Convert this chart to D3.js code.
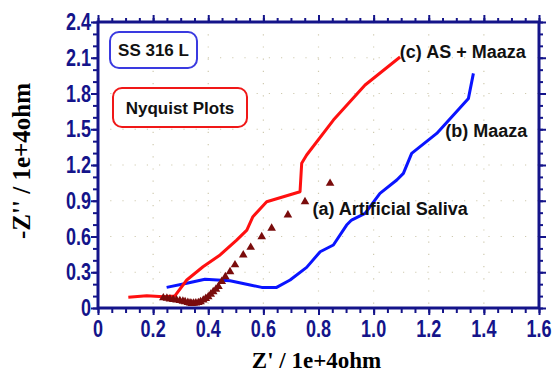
<!DOCTYPE html>
<html>
<head>
<meta charset="utf-8">
<script src="https://cdn.jsdelivr.net/npm/d3@7"></script>
<style>
  body { margin: 0; background: #fff; }
  svg { display: block; }
</style>
</head>
<body>
<div id="chart"></div>
<script>
// (c) AS + Maaza, red line
const asMaaza = [
  [0.110, 0.090], [0.177, 0.103], [0.237, 0.095], [0.279, 0.101],
  [0.322, 0.235], [0.381, 0.346], [0.443, 0.445], [0.503, 0.570],
  [0.540, 0.654], [0.562, 0.766], [0.612, 0.892], [0.733, 0.976],
  [0.739, 1.214], [0.757, 1.284], [0.854, 1.577], [0.969, 1.871],
  [1.096, 2.106]
];
// (b) Maaza, blue line
const maaza = [
  [0.249, 0.173], [0.322, 0.207], [0.388, 0.241], [0.479, 0.229],
  [0.552, 0.193], [0.594, 0.173], [0.648, 0.173], [0.697, 0.235],
  [0.757, 0.341], [0.806, 0.472], [0.854, 0.529], [0.902, 0.696],
  [0.920, 0.738], [0.969, 0.794], [1.023, 0.962], [1.084, 1.074],
  [1.108, 1.130], [1.138, 1.298], [1.229, 1.465], [1.344, 1.759],
  [1.362, 1.969]
];
// (a) Artificial Saliva, triangles
const saliva = [
  [0.237, 0.085], [0.250, 0.082], [0.261, 0.076], [0.273, 0.072],
  [0.285, 0.068], [0.297, 0.062], [0.308, 0.057], [0.316, 0.052],
  [0.326, 0.046], [0.334, 0.042], [0.340, 0.038], [0.347, 0.040],
  [0.355, 0.042], [0.364, 0.045], [0.372, 0.052], [0.382, 0.066],
  [0.391, 0.080], [0.400, 0.095], [0.409, 0.115], [0.418, 0.137],
  [0.428, 0.158], [0.437, 0.180], [0.449, 0.222], [0.462, 0.262],
  [0.479, 0.305], [0.497, 0.362], [0.527, 0.445], [0.554, 0.509],
  [0.594, 0.598], [0.630, 0.669], [0.689, 0.780], [0.751, 0.892],
  [0.842, 1.046]
];

const xTicks = [0, 0.2, 0.4, 0.6, 0.8, 1.0, 1.2, 1.4, 1.6];
const xTickLabels = ['0', '0.2', '0.4', '0.6', '0.8', '1.0', '1.2', '1.4', '1.6'];
const yTicks = [0, 0.3, 0.6, 0.9, 1.2, 1.5, 1.8, 2.1, 2.4];
const yTickLabels = ['0', '0.3', '0.6', '0.9', '1.2', '1.5', '1.8', '2.1', '2.4'];

const W = 555, H = 378;
const margin = {top: 22, right: 16, bottom: 70, left: 98};
const width = W - margin.left - margin.right,
      height = H - margin.top - margin.bottom;

const navy = '#14148a';

const svg = d3.select('#chart').append('svg')
    .attr('width', W).attr('height', H)
    .style('font-family', 'Arial, "Liberation Sans", sans-serif');

const g = svg.append('g')
    .attr('transform', 'translate(' + margin.left + ',' + margin.top + ')');

const x = d3.scaleLinear().domain([0, 1.6]).range([0, width]);
const y = d3.scaleLinear().domain([0, 2.4]).range([height, 0]);

// dotted grid
g.append('g').selectAll('line').data(xTicks.slice(1, -1)).enter().append('line')
    .attr('x1', d => x(d)).attr('x2', d => x(d))
    .attr('y1', 0).attr('y2', height)
    .attr('stroke', '#cfcab0').attr('stroke-width', 1.2)
    .attr('stroke-dasharray', '1.2,11');
g.append('g').selectAll('line').data(yTicks.slice(1, -1)).enter().append('line')
    .attr('y1', d => y(d)).attr('y2', d => y(d))
    .attr('x1', 0).attr('x2', width)
    .attr('stroke', '#cfcab0').attr('stroke-width', 1.2)
    .attr('stroke-dasharray', '1.2,11');

// minor + major ticks on all four sides
const xMinor = d3.range(0, 1.6001, 0.05);
const yMinor = d3.range(0, 2.4001, 0.1);

function styleAxis(sel) {
  sel.select('.domain').remove();
  sel.selectAll('line').attr('stroke', navy).attr('stroke-width', 2);
}

g.append('g').attr('transform', 'translate(0,' + height + ')')
    .call(d3.axisBottom(x).tickValues(xMinor).tickSize(5).tickFormat(''))
    .call(styleAxis);
g.append('g').attr('transform', 'translate(0,' + height + ')')
    .call(d3.axisBottom(x).tickValues(xTicks).tickSize(7).tickFormat(''))
    .call(styleAxis);
g.append('g')
    .call(d3.axisTop(x).tickValues(xMinor).tickSize(4).tickFormat(''))
    .call(styleAxis);
g.append('g')
    .call(d3.axisTop(x).tickValues(xTicks).tickSize(7).tickFormat(''))
    .call(styleAxis);
g.append('g')
    .call(d3.axisLeft(y).tickValues(yMinor).tickSize(5).tickFormat(''))
    .call(styleAxis);
g.append('g')
    .call(d3.axisLeft(y).tickValues(yTicks).tickSize(7).tickFormat(''))
    .call(styleAxis);
g.append('g').attr('transform', 'translate(' + width + ',0)')
    .call(d3.axisRight(y).tickValues(yMinor).tickSize(4).tickFormat(''))
    .call(styleAxis);
g.append('g').attr('transform', 'translate(' + width + ',0)')
    .call(d3.axisRight(y).tickValues(yTicks).tickSize(7).tickFormat(''))
    .call(styleAxis);

// frame
g.append('rect')
    .attr('x', 0).attr('y', 0).attr('width', width).attr('height', height)
    .attr('fill', 'none').attr('stroke', navy).attr('stroke-width', 3);

// tick labels (tall narrow bold)
g.append('g').selectAll('text').data(xTicks).enter().append('text')
    .attr('transform', d => 'translate(' + x(d) + ',' + (height + 29) + ') scale(0.82,1.05)')
    .attr('text-anchor', 'middle')
    .attr('fill', navy).style('font-weight', 'bold').style('font-size', '22px')
    .text((d, i) => xTickLabels[i]);
g.append('g').selectAll('text').data(yTicks).enter().append('text')
    .attr('transform', d => 'translate(-7,' + (y(d) + 8) + ') scale(0.82,1.05)')
    .attr('text-anchor', 'end')
    .attr('fill', navy).style('font-weight', 'bold').style('font-size', '22px')
    .text((d, i) => yTickLabels[i]);

// axis titles
svg.append('text')
    .attr('x', margin.left + width / 2 - 2).attr('y', 368)
    .attr('text-anchor', 'middle')
    .style('font-family', '"Liberation Serif", "Times New Roman", serif')
    .style('font-weight', 'bold').style('font-size', '23px')
    .text("Z' / 1e+4ohm");
svg.append('text')
    .attr('transform', 'translate(30,161) rotate(-90)')
    .attr('text-anchor', 'middle')
    .style('font-family', '"Liberation Serif", "Times New Roman", serif')
    .style('font-weight', 'bold').style('font-size', '25px')
    .text("-Z'' / 1e+4ohm");

// series
const line = d3.line().x(d => x(d[0])).y(d => y(d[1]));

g.append('path').datum(maaza)
    .attr('d', line).attr('fill', 'none')
    .attr('stroke', '#0a14ff').attr('stroke-width', 3)
    .attr('stroke-linejoin', 'round');
g.append('path').datum(asMaaza)
    .attr('d', line).attr('fill', 'none')
    .attr('stroke', '#ff1010').attr('stroke-width', 3)
    .attr('stroke-linejoin', 'round');

const tri = d3.symbol().type(d3.symbolTriangle).size(32);
g.append('g').selectAll('path').data(saliva).enter().append('path')
    .attr('transform', d => 'translate(' + x(d[0]) + ',' + y(d[1]) + ')')
    .attr('d', tri)
    .attr('fill', '#7a0c0c');

// series labels
const labels = [
  {t: '(c) AS + Maaza', x: 1.095, y: 2.10},
  {t: '(b) Maaza', x: 1.26, y: 1.435},
  {t: '(a) Artificial Saliva', x: 0.778, y: 0.78}
];
g.append('g').selectAll('text').data(labels).enter().append('text')
    .attr('x', d => x(d.x)).attr('y', d => y(d.y))
    .attr('fill', '#111')
    .style('font-weight', 'bold').style('font-size', '18px')
    .text(d => d.t);

// boxed annotations
const boxes = [
  {t: 'SS 316 L', x0: 12, y0: 10, w: 87, h: 36, c: '#3a3ae0'},
  {t: 'Nyquist Plots', x0: 15, y0: 66, w: 134, h: 39, c: '#f01818'}
];
const bx = g.append('g').selectAll('g').data(boxes).enter().append('g');
bx.append('rect')
    .attr('x', d => d.x0).attr('y', d => d.y0)
    .attr('width', d => d.w).attr('height', d => d.h)
    .attr('rx', 9).attr('ry', 9)
    .attr('fill', '#fff').attr('stroke', d => d.c).attr('stroke-width', 2);
bx.append('text')
    .attr('x', d => d.x0 + d.w / 2).attr('y', d => d.y0 + d.h / 2 + 6)
    .attr('text-anchor', 'middle')
    .attr('fill', '#111')
    .style('font-weight', 'bold').style('font-size', '17px')
    .text(d => d.t);
</script>
</body>
</html>
